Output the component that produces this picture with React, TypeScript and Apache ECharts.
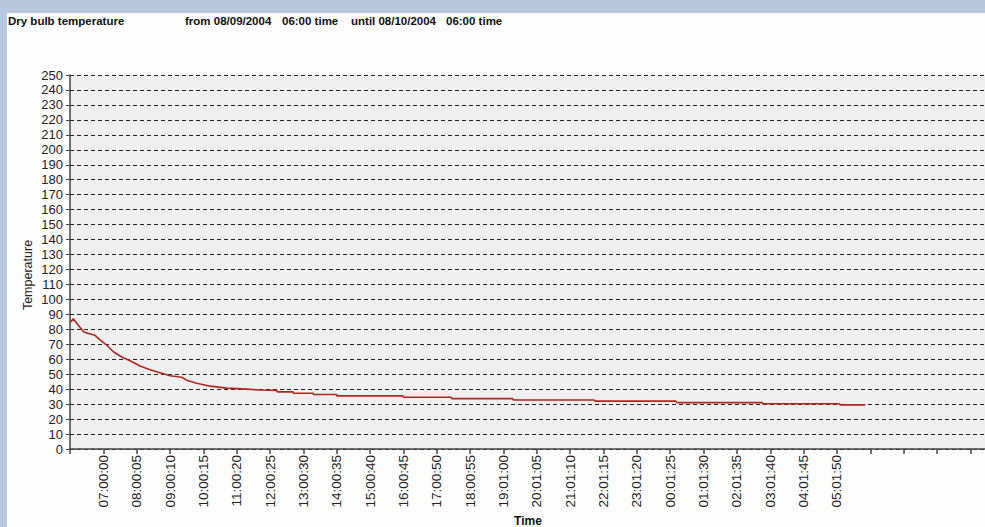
import React, { useEffect, useRef } from "react";
import * as echarts from "echarts";

// hours after 06:00 on 08/09/2004
const hours = [
  0.0, 0.1, 0.2, 0.4, 0.5, 0.75, 0.9, 1.1, 1.3, 1.55, 1.8, 2.1, 2.4, 2.7, 3.0, 3.35, 3.5, 3.8, 4.2, 4.7,
  5.3, 5.7, 6.2, 6.22, 6.69, 6.7, 7.29, 7.3, 7.99, 8.0, 9.98, 10.0, 11.43, 11.45, 13.27, 13.3, 15.72,
  15.75, 18.17, 18.2, 20.76, 20.78, 23.07, 23.1, 23.85,
];
const temperatures = [
  84.5, 87, 84, 78.5, 77.5, 76, 73, 69.5, 65, 61.5, 59, 55.5, 53, 51, 49, 48, 46, 44, 42, 40.7,
  40, 39.4, 39.2, 38.2, 38.2, 37.3, 37.3, 36.4, 36.4, 35.5, 35.5, 34.6, 34.6, 33.7, 33.7, 32.8, 32.8,
  32, 32, 31, 31, 30.2, 30.2, 29.5, 29.5,
];
const tickLabels = [
  "07:00:00", "08:00:05", "09:00:10", "10:00:15", "11:00:20", "12:00:25", "13:00:30", "14:00:35",
  "15:00:40", "16:00:45", "17:00:50", "18:00:55", "19:01:00", "20:01:05", "21:01:10", "22:01:15",
  "23:01:20", "00:01:25", "01:01:30", "02:01:35", "03:01:40", "04:01:45", "05:01:50",
];
const titleMain = "Dry bulb temperature";
const titleParts = ["from 08/09/2004", "06:00 time", "until 08/10/2004", "06:00 time"];

const FONT = "'Liberation Sans', Arial, sans-serif";

export default function App() {
  const ref = useRef<HTMLDivElement>(null);
  useEffect(() => {
    if (!ref.current) return;
    const chart = echarts.init(ref.current, undefined, { renderer: "svg" });
    const partX = [178, 275, 344, 439];
    chart.setOption({
      animation: false,
      backgroundColor: "#fdfdfd",
      textStyle: { fontFamily: FONT },
      grid: {
        left: 63,
        top: 62,
        right: 0,
        height: 374,
        show: true,
        backgroundColor: "#efefef",
        borderWidth: 0,
      },
      graphic: [
        {
          type: "text",
          x: 1,
          y: 8,
          style: { text: titleMain, font: `bold 11.5px ${FONT}`, fill: "#111", verticalAlign: "middle" },
        },
        ...titleParts.map((t, i) => ({
          type: "text",
          x: partX[i],
          y: 8,
          style: { text: t, font: `bold 11.5px ${FONT}`, fill: "#111", verticalAlign: "middle" },
        })),
        {
          type: "text",
          x: 21,
          y: 262,
          rotation: Math.PI / 2,
          style: { text: "Temperature", font: `12.5px ${FONT}`, fill: "#222", align: "center", verticalAlign: "middle" },
        },
        {
          type: "text",
          x: 521,
          y: 508,
          style: { text: "Time", font: `bold 12px ${FONT}`, fill: "#111", align: "center", verticalAlign: "middle" },
        },
      ],
      xAxis: {
        type: "value",
        min: 0,
        max: 27.44,
        interval: 1,
        axisLine: { show: true, lineStyle: { color: "#444", width: 1.5 } },
        axisTick: { show: true, length: 5, lineStyle: { color: "#444", width: 1.5 } },
        splitLine: { show: false },
        axisLabel: {
          rotate: 90,
          margin: 6,
          fontSize: 13.5,
          color: "#222",
          fontFamily: FONT,
          showMaxLabel: false,
          formatter: (v: number) => tickLabels[Math.round(v) - 1] ?? "",
        },
      },
      yAxis: {
        type: "value",
        min: 0,
        max: 250,
        interval: 10,
        axisLine: { show: true, lineStyle: { color: "#444", width: 1.5 } },
        axisTick: { show: true, length: 4, lineStyle: { color: "#444" } },
        splitLine: { show: true, lineStyle: { color: "#222", type: [4, 3], width: 1.2 } },
        axisLabel: { margin: 7, fontSize: 13, color: "#222", fontFamily: FONT },
      },
      series: [
        {
          type: "line",
          data: hours.map((h, i) => [h, temperatures[i]]),
          showSymbol: false,
          symbol: "none",
          lineStyle: { color: "#b3261e", width: 1.6 },
        },
      ],
    });
    return () => chart.dispose();
  }, []);
  return (
    <div style={{ position: "absolute", left: 0, top: 0, width: 985, height: 527, background: "#b8c8df", overflow: "hidden" }}>
      <div ref={ref} style={{ position: "absolute", left: 7, top: 13, width: 978, height: 514 }} />
    </div>
  );
}
